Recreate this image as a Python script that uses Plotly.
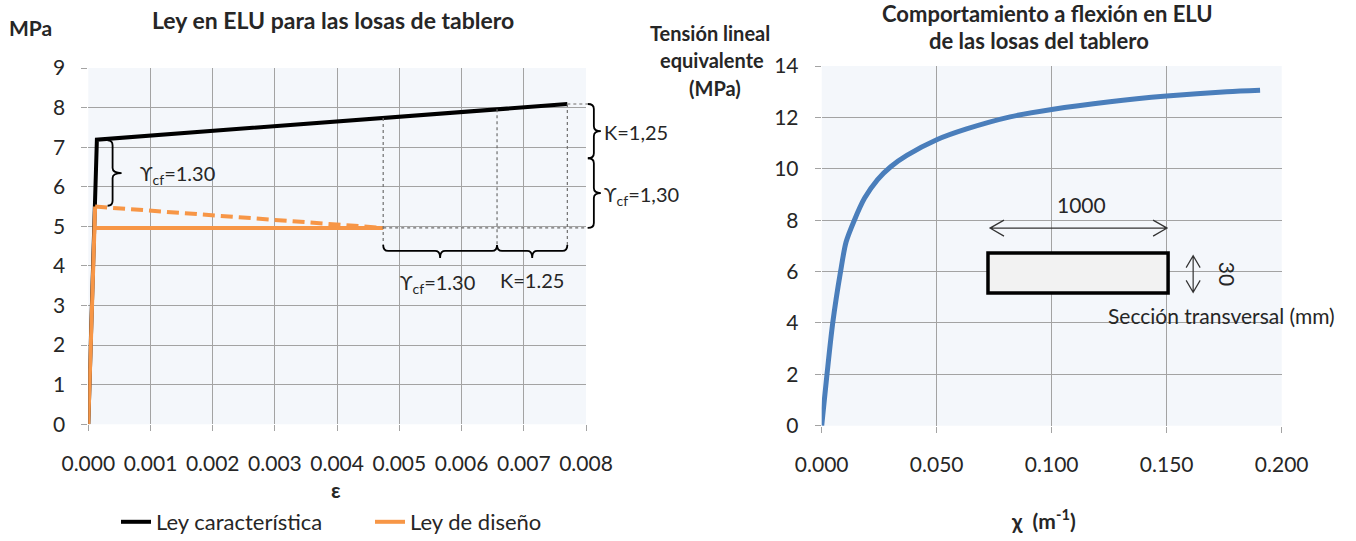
import numpy as np
import plotly.graph_objects as go

# ---------------- data ----------------
# Left chart: Ley en ELU (strain eps vs stress MPa)
eps_car = [0.0, 0.000138, 0.0077]
sig_car = [0.0, 7.19, 8.09]

eps_dis = [0.0, 0.00011, None, 0.00008, 0.00474]
sig_dis = [0.0, 5.5, None, 4.96, 4.96]

eps_dis_dash = [0.00011, 0.00474]
sig_dis_dash = [5.5, 4.96]

# reference values used by the dimension annotations
eps_marks = [0.00474, 0.00657, 0.0077]   # vertical dotted guides
sig_marks = [8.09, 6.72, 4.96]          # right brace limits
sig_left_brace = [7.17, 5.52]

left_xticks = [0.000, 0.001, 0.002, 0.003, 0.004, 0.005, 0.006, 0.007, 0.008]
left_yticks = list(range(0, 10))

# Right chart: moment-curvature (chi vs equivalent linear stress)
chi = [0.0, 0.0023, 0.0048, 0.0082, 0.0106, 0.0142, 0.0186, 0.0243, 0.0300,
       0.0370, 0.0500, 0.0630, 0.0819, 0.1000, 0.1253, 0.1500, 0.1761, 0.1906]
sig_eq = [0.0, 2.0, 4.0, 6.0, 7.15, 8.0, 8.85, 9.58, 10.08,
          10.52, 11.13, 11.55, 12.02, 12.31, 12.61, 12.83, 13.0, 13.06]

right_xticks = [0.0, 0.05, 0.10, 0.15, 0.20]
right_yticks = list(range(0, 15, 2))

# cross-section sketch (chi / stress units of the right axes)
sec_x = [0.0723, 0.1506]
sec_y = [5.16, 6.72]

# ---------------- layout geometry ----------------
W, H = 1356, 541
L_X = (88.3, 586.0)     # pixel x of left axis range ends
L_Y = (424.3, 68.0)     # pixel y of y=0 and y=9
R_X = (821.7, 1281.7)
R_Y = (425.7, 66.0)
LXR, LYR = (0.0, 0.008), (0.0, 9.0)
RXR, RYR = (0.0, 0.2), (0.0, 14.0)

def dom_x(p): return [p[0] / W, p[1] / W]
def dom_y(p): return [1 - p[0] / H, 1 - p[1] / H]

def lpx(x): return L_X[0] + (x - LXR[0]) / (LXR[1] - LXR[0]) * (L_X[1] - L_X[0])
def lpy(y): return L_Y[0] + (y - LYR[0]) / (LYR[1] - LYR[0]) * (L_Y[1] - L_Y[0])
def rpx(x): return R_X[0] + (x - RXR[0]) / (RXR[1] - RXR[0]) * (R_X[1] - R_X[0])
def rpy(y): return R_Y[0] + (y - RYR[0]) / (RYR[1] - RYR[0]) * (R_Y[1] - R_Y[0])
def P(px, py): return f"{px / W:.5f},{1 - py / H:.5f}"

FONT = "Lato"
TXT = "#262626"
GRID = "#a3a3a3"

fig = go.Figure()

fig.add_trace(go.Scatter(x=eps_car, y=sig_car, mode="lines", name="Ley característica",
                         line=dict(color="black", width=4), xaxis="x", yaxis="y"))
fig.add_trace(go.Scatter(x=eps_dis, y=sig_dis, mode="lines", name="Ley de diseño",
                         line=dict(color="#f79646", width=4), xaxis="x", yaxis="y",
                         connectgaps=False))
fig.add_trace(go.Scatter(x=eps_dis_dash, y=sig_dis_dash, mode="lines", showlegend=False,
                         line=dict(color="#f79646", width=4, dash="12px,6px"),
                         xaxis="x", yaxis="y"))
fig.add_trace(go.Scatter(x=chi, y=sig_eq, mode="lines", showlegend=False,
                         line=dict(color="#4a7ebb", width=5, shape="spline", smoothing=0.8),
                         xaxis="x2", yaxis="y2"))

shapes = []
annotations = []

def ann(text, px, py, size=18, bold=False, xanchor="center", yanchor="middle", angle=0):
    t = f"<b>{text}</b>" if bold else text
    annotations.append(dict(text=t, x=px / W, y=1 - py / H, xref="paper", yref="paper",
                            showarrow=False, xanchor=xanchor, yanchor=yanchor,
                            textangle=angle, font=dict(family=FONT, size=size, color=TXT)))

def path(d, color="black", width=1.6, dash=None):
    s = dict(type="path", path=d, xref="paper", yref="paper",
             line=dict(color=color, width=width))
    if dash:
        s["line"]["dash"] = dash
    shapes.append(s)

def brace_v(xh, y0, y1, w=6, t=7, r=5):
    # vertical brace with tip pointing right; xh hook x, y0 top, y1 bottom (pixels)
    xm, xt, ym = xh + w, xh + w + t, (y0 + y1) / 2
    d = (f"M{P(xh, y0)} Q{P(xm, y0)} {P(xm, y0 + r)} L{P(xm, ym - r)} "
         f"Q{P(xm, ym)} {P(xt, ym)} Q{P(xm, ym)} {P(xm, ym + r)} "
         f"L{P(xm, y1 - r)} Q{P(xm, y1)} {P(xh, y1)}")
    path(d, width=1.8)

def brace_h(x0, x1, yh, h=6, t=7, r=5):
    # horizontal brace with tip pointing down; yh hook y (pixels)
    ym, yt, xm = yh + h, yh + h + t, (x0 + x1) / 2
    d = (f"M{P(x0, yh)} Q{P(x0, ym)} {P(x0 + r, ym)} L{P(xm - r, ym)} "
         f"Q{P(xm, ym)} {P(xm, yt)} Q{P(xm, ym)} {P(xm + r, ym)} "
         f"L{P(x1 - r, ym)} Q{P(x1, ym)} {P(x1, yh)}")
    path(d, width=1.8)

# --- left chart dimension annotations ---
def black_at(x):
    return float(np.interp(x, eps_car, sig_car))

y_brace_top = lpy(4.53)
for e in eps_marks:
    path(f"M{P(lpx(e), lpy(black_at(e)))} L{P(lpx(e), y_brace_top)}",
         color="#6e6e6e", width=1.2, dash="dot")
x_brace_r = lpx(0.00803)
path(f"M{P(lpx(eps_marks[0]), lpy(sig_marks[2]))} L{P(x_brace_r, lpy(sig_marks[2]))}",
     color="#6e6e6e", width=1.2, dash="dot")
path(f"M{P(lpx(eps_marks[2]), lpy(sig_marks[0]))} L{P(x_brace_r, lpy(sig_marks[0]))}",
     color="#9a9a9a", width=1.5, dash="dot")

brace_h(lpx(eps_marks[0]), lpx(eps_marks[1]), y_brace_top)
brace_h(lpx(eps_marks[1]), lpx(eps_marks[2]), y_brace_top)
brace_v(x_brace_r, lpy(sig_marks[0]), lpy(sig_marks[1]))
brace_v(x_brace_r, lpy(sig_marks[1]), lpy(sig_marks[2]))
brace_v(lpx(0.00031), lpy(sig_left_brace[0]), lpy(sig_left_brace[1]), w=5, t=9)

ann("ϒ<sub>cf</sub>=1.30", lpx(0.00080), lpy(6.30), size=20, xanchor="left")
ann("ϒ<sub>cf</sub>=1.30", (lpx(eps_marks[0]) + lpx(eps_marks[1])) / 2 - 3, lpy(3.55), size=20)
ann("K=1.25", (lpx(eps_marks[1]) + lpx(eps_marks[2])) / 2, lpy(3.64), size=20)
ann("K=1,25", x_brace_r + 14, lpy(7.38), size=20, xanchor="left")
ann("ϒ<sub>cf</sub>=1,30", x_brace_r + 14, lpy(5.78), size=20, xanchor="left")

# --- right chart cross-section sketch ---
shapes.append(dict(type="rect", xref="x2", yref="y2", x0=sec_x[0], x1=sec_x[1],
                   y0=sec_y[0], y1=sec_y[1], fillcolor="#f2f2f2",
                   line=dict(color="black", width=3.5)))
ax0, ax1, ay = rpx(sec_x[0]) + 2, rpx(sec_x[1]) - 1, rpy(7.69)
path(f"M{P(ax0, ay)} L{P(ax1, ay)} "
     f"M{P(ax0 + 14, ay - 8)} L{P(ax0, ay)} L{P(ax0 + 14, ay + 8)} "
     f"M{P(ax1 - 14, ay - 8)} L{P(ax1, ay)} L{P(ax1 - 14, ay + 8)}", color="#333", width=1.2)
vx, vy0, vy1 = rpx(0.1615), rpy(6.62), rpy(5.19)
path(f"M{P(vx, vy0)} L{P(vx, vy1)} "
     f"M{P(vx - 7, vy0 + 12)} L{P(vx, vy0)} L{P(vx + 7, vy0 + 12)} "
     f"M{P(vx - 7, vy1 - 12)} L{P(vx, vy1)} L{P(vx + 7, vy1 - 12)}", color="#333", width=1.2)
ann("1000", (ax0 + ax1) / 2 + 3, rpy(8.6), size=21)
ann("30", rpx(0.1763), (vy0 + vy1) / 2, size=21, angle=90)
ann("Sección transversal (mm)", rpx(0.1238), rpy(4.27), size=21, xanchor="left")

# --- titles and axis titles ---
ann("Ley en ELU para las losas de tablero", 333, 20, size=23, bold=True)
ann("MPa", 30, 28, size=21, bold=True)
ann("Comportamiento a flexión en ELU", 1047, 13.5, size=22, bold=True)
ann("de las losas del tablero", 1039, 41, size=22, bold=True)
ann("Tensión lineal", 710, 33, size=20, bold=True)
ann("equivalente", 712, 60, size=20, bold=True)
ann("(MPa)", 715, 88, size=20, bold=True)
ann("ε", 336, 489, size=21, bold=True)
ann("χ  (m<sup>-1</sup>)", 1043, 519, size=21, bold=True)

axis_common = dict(showgrid=True, gridcolor=GRID, gridwidth=1, zeroline=False,
                   showline=False, ticks="outside", tickcolor=GRID, ticklen=6,
                   tickfont=dict(family=FONT, size=21, color=TXT))

fig.update_layout(
    width=W, height=H,
    margin=dict(l=0, r=0, t=0, b=0, autoexpand=False),
    paper_bgcolor="white",
    plot_bgcolor="#f4f7fb",
    showlegend=True,
    legend=dict(orientation="h", x=116 / W, y=1 - 522 / H, xanchor="left", yanchor="middle",
                font=dict(family=FONT, size=22, color=TXT), entrywidth=209,
                entrywidthmode="pixels", bgcolor="rgba(0,0,0,0)"),
    xaxis=dict(domain=dom_x(L_X), range=list(LXR), tickvals=left_xticks,
               tickformat=".3f", anchor="y", ticklabelstandoff=14, **axis_common),
    yaxis=dict(domain=dom_y(L_Y), range=list(LYR), tickvals=left_yticks,
               anchor="x", ticklabelstandoff=12, **axis_common),
    xaxis2=dict(domain=dom_x(R_X), range=list(RXR), tickvals=right_xticks,
                tickformat=".3f", anchor="y2", ticklabelstandoff=14, **axis_common),
    yaxis2=dict(domain=dom_y(R_Y), range=list(RYR), tickvals=right_yticks,
                anchor="x2", ticklabelstandoff=12, **axis_common),
    shapes=shapes,
    annotations=annotations,
)

fig.write_html("out.html")
